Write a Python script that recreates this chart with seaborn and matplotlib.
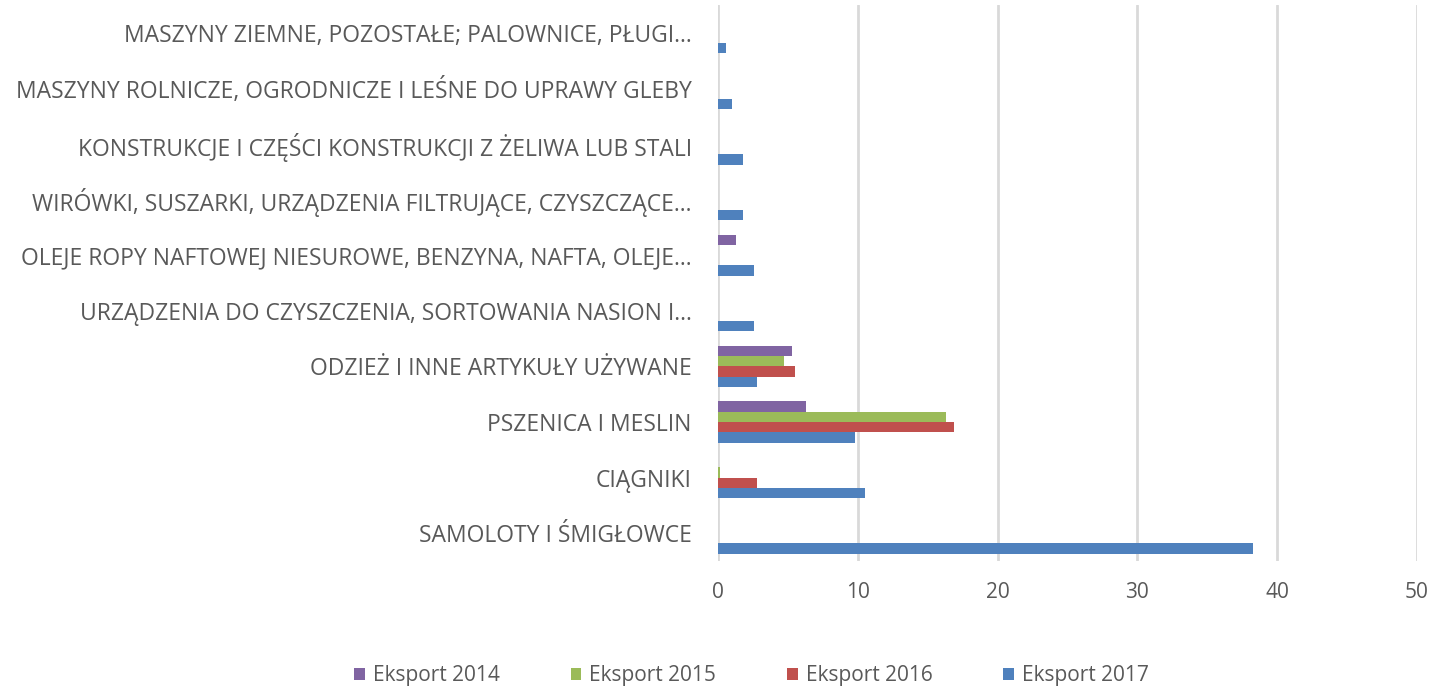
import pandas as pd
import numpy as np
import matplotlib.pyplot as plt
import seaborn as sns

# dane
kategorie = [
    "MASZYNY ZIEMNE, POZOSTAŁE; PALOWNICE, PŁUGI…",
    "MASZYNY ROLNICZE, OGRODNICZE I LEŚNE DO UPRAWY GLEBY",
    "KONSTRUKCJE I CZĘŚCI KONSTRUKCJI Z ŻELIWA LUB STALI",
    "WIRÓWKI, SUSZARKI, URZĄDZENIA FILTRUJĄCE, CZYSZCZĄCE…",
    "OLEJE ROPY NAFTOWEJ NIESUROWE, BENZYNA, NAFTA, OLEJE…",
    "URZĄDZENIA DO CZYSZCZENIA, SORTOWANIA NASION I…",
    "ODZIEŻ I INNE ARTYKUŁY UŻYWANE",
    "PSZENICA I MESLIN",
    "CIĄGNIKI",
    "SAMOLOTY I ŚMIGŁOWCE",
]
serie = ["Eksport 2014", "Eksport 2015", "Eksport 2016", "Eksport 2017"]
eksport_2014 = [0, 0, 0, 0, 1.27, 0, 5.3, 6.3, 0, 0]
eksport_2015 = [0, 0, 0, 0, 0, 0, 4.75, 16.3, 0.15, 0]
eksport_2016 = [0, 0, 0, 0, 0, 0, 5.5, 16.85, 2.8, 0]
eksport_2017 = [0.6, 1.0, 1.75, 1.75, 2.55, 2.55, 2.8, 9.8, 10.5, 38.3]
x_ticks = [0, 10, 20, 30, 40, 50]

kolory = ["#8064A2", "#9BBB59", "#C0504D", "#4F81BD"]

df = pd.DataFrame({
    "kategoria": kategorie * 4,
    "seria": np.repeat(serie, len(kategorie)),
    "wartosc": eksport_2014 + eksport_2015 + eksport_2016 + eksport_2017,
})

sns.set_style("white")
plt.rcParams["font.family"] = ["Open Sans", "DejaVu Sans"]
szary = "#595959"

fig = plt.figure(figsize=(14.29, 6.88), dpi=100)
ax = fig.add_axes([0.5025, 0.1846, 0.4891, 0.8081])

sns.barplot(
    data=df, y="kategoria", x="wartosc", hue="seria",
    order=kategorie, hue_order=serie, palette=kolory, saturation=1,
    orient="h", width=0.74, errorbar=None, linewidth=0, ax=ax,
)

ax.set_xlim(0, 50)
ax.set_xticks(x_ticks)
ax.set_xticklabels([str(t) for t in x_ticks], fontsize=15, color=szary)
ax.tick_params(axis="x", length=0, pad=15)
ax.tick_params(axis="y", length=0, pad=19, labelsize=16.5, labelcolor=szary)
ax.set_xlabel("")
ax.set_ylabel("")
ax.xaxis.grid(True, color="#D9D9D9", linewidth=2)
ax.set_axisbelow(True)
for s in ax.spines.values():
    s.set_visible(False)

ax.get_legend().remove()
uchwyty, etykiety = ax.get_legend_handles_labels()
fig.legend(
    uchwyty, etykiety, loc="center", bbox_to_anchor=(0.526, 0.018),
    ncol=4, frameon=False, fontsize=15, labelcolor=szary,
    handlelength=0.5, handleheight=0.5, handletextpad=0.4, columnspacing=3.4,
)

fig.savefig("out.png", dpi=100)
